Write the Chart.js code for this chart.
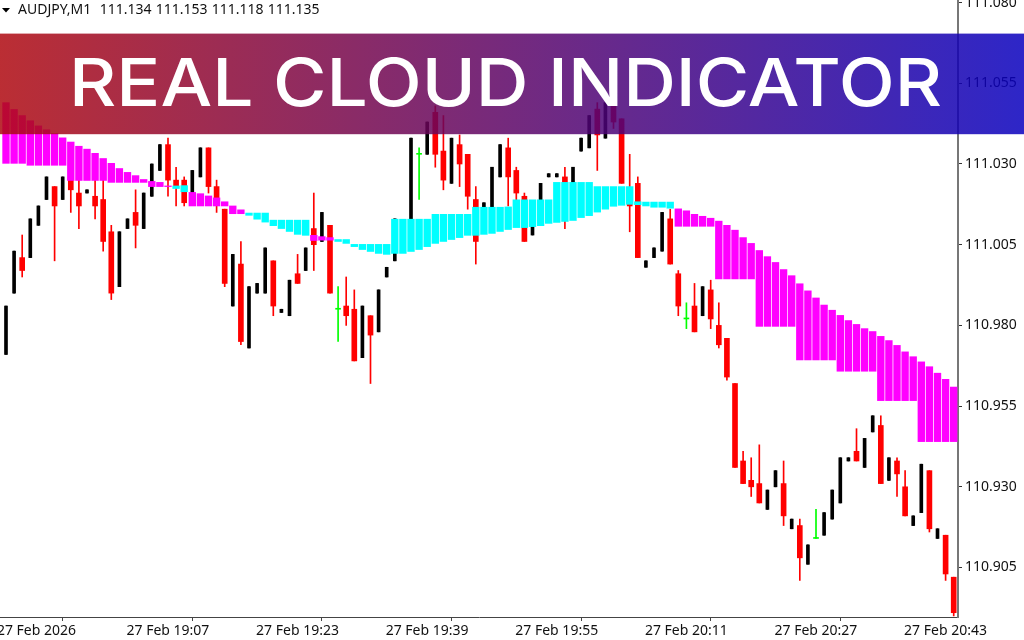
<!DOCTYPE html>
<html>
<head>
<meta charset="utf-8">
<style>html,body{margin:0;padding:0;background:#fff;overflow:hidden}#w{position:relative;width:1024px;height:640px}</style>
<script src="https://cdn.jsdelivr.net/npm/chart.js@4/dist/chart.umd.min.js"></script>
</head>
<body>
<div id="w"><canvas id="c" width="1024" height="640"></canvas></div>
<script>
const titleText = "REAL CLOUD INDICATOR";
const headerText = "AUDJPY,M1  111.134 111.153 111.118 111.135";
const priceTicks = [111.080,111.055,111.030,111.005,110.980,110.955,110.930,110.905];
const timeTickBars = [-1,15,31,47,63,79,95,111];
const timeTickLabels = ["27 Feb 2026","27 Feb 19:07","27 Feb 19:23","27 Feb 19:39","27 Feb 19:55","27 Feb 20:11","27 Feb 20:27","27 Feb 20:43"];

const opens = [110.971,110.990,111.001,111.001,111.011,111.019,111.023,111.019,111.027,111.021,
111.021,111.020,111.019,111.009,110.992,111.010,111.015,111.010,111.020,111.028,
111.036,111.025,111.025,111.018,111.026,111.035,111.023,111.016,110.986,110.999,
110.973,110.990,110.990,111.000,110.984,110.983,110.996,110.997,111.010,111.006,
111.011,110.985,110.986,110.985,110.970,110.983,110.978,110.995,111.000,111.005,
111.013,111.033,111.033,111.046,111.034,111.024,111.036,111.033,111.019,111.013,
111.015,111.026,111.035,111.028,111.020,111.008,111.017,111.026,111.026,111.026,
111.023,111.034,111.035,111.047,111.038,111.048,111.044,111.020,111.024,110.998,
111.001,111.003,111.013,110.996,110.982,110.986,110.983,110.991,110.980,110.976,
110.962,110.938,110.932,110.931,110.923,110.930,110.931,110.917,110.918,110.906,
110.914,110.915,110.920,110.925,110.938,110.941,110.936,110.947,110.949,110.932,
110.938,110.930,110.918,110.922,110.935,110.914,110.915,110.902];
const highs = [110.986,111.003,111.008,111.013,111.017,111.026,111.023,111.026,111.030,111.025,
111.022,111.025,111.025,111.011,111.009,111.013,111.022,111.021,111.030,111.036,
111.038,111.029,111.026,111.028,111.035,111.035,111.025,111.016,111.002,111.006,
110.992,110.993,111.004,111.000,110.985,110.994,111.002,111.004,111.021,111.015,
111.011,110.992,110.995,110.991,110.986,110.983,110.991,110.998,111.013,111.012,
111.038,111.035,111.043,111.048,111.045,111.038,111.039,111.033,111.023,111.018,
111.029,111.036,111.038,111.029,111.021,111.015,111.024,111.027,111.027,111.029,
111.029,111.038,111.045,111.049,111.049,111.050,111.044,111.033,111.026,111.000,
111.004,111.015,111.016,110.997,110.987,110.993,110.992,110.994,110.987,110.976,
110.962,110.941,110.939,110.943,110.929,110.935,110.938,110.920,110.920,110.912,
110.923,110.922,110.929,110.939,110.939,110.948,110.945,110.952,110.952,110.939,
110.939,110.935,110.921,110.937,110.935,110.917,110.915,110.902];
const lows = [110.971,110.990,110.995,111.001,111.011,111.019,111.000,111.019,111.015,111.010,
111.021,111.013,111.003,110.988,110.992,111.010,111.004,111.010,111.020,111.028,
111.020,111.017,111.017,111.018,111.026,111.021,111.015,110.992,110.986,110.974,
110.973,110.990,110.990,110.983,110.984,110.983,110.993,110.997,110.997,111.006,
110.990,110.975,110.980,110.969,110.970,110.962,110.978,110.995,111.000,111.005,
111.013,111.019,111.033,111.029,111.022,111.024,111.023,111.016,110.999,111.013,
111.015,111.026,111.017,111.016,111.006,111.008,111.017,111.026,111.026,111.010,
111.023,111.034,111.035,111.028,111.038,111.041,111.024,111.009,111.001,110.998,
111.001,111.003,110.999,110.983,110.979,110.978,110.983,110.979,110.973,110.963,
110.936,110.931,110.927,110.925,110.923,110.930,110.918,110.917,110.901,110.906,
110.914,110.915,110.920,110.925,110.938,110.938,110.936,110.947,110.931,110.932,
110.927,110.921,110.918,110.922,110.916,110.914,110.901,110.890];
const closes = [110.986,111.003,110.997,111.013,111.017,111.026,111.017,111.026,111.022,111.017,
111.022,111.017,111.006,110.990,111.009,111.013,111.011,111.021,111.030,111.036,
111.025,111.023,111.018,111.028,111.035,111.023,111.018,110.993,111.002,110.975,
110.992,110.993,111.004,110.986,110.985,110.994,110.993,111.004,111.005,111.015,
110.990,110.985,110.983,110.969,110.986,110.977,110.991,110.998,111.013,111.012,
111.038,111.033,111.043,111.033,111.025,111.038,111.030,111.020,111.006,111.018,
111.029,111.036,111.026,111.021,111.006,111.015,111.024,111.027,111.027,111.015,
111.029,111.038,111.045,111.039,111.049,111.043,111.024,111.017,111.001,111.000,
111.004,111.015,110.999,110.986,110.982,110.978,110.992,110.982,110.974,110.964,
110.936,110.931,110.930,110.925,110.929,110.935,110.921,110.920,110.908,110.912,
110.914,110.922,110.929,110.939,110.939,110.938,110.945,110.952,110.931,110.939,
110.934,110.921,110.921,110.937,110.917,110.917,110.903,110.891];

const cloudTop = [111.0490,111.0469,111.0450,111.0434,111.0418,111.0406,111.0394,111.0381,111.0368,111.0355,
111.0346,111.0333,111.0317,111.0302,111.0286,111.0274,111.0264,111.0252,111.0246,111.0243,
111.0232,111.0232,111.0233,111.0212,111.0208,111.0201,111.0195,111.0183,111.0170,111.0158,
111.0148,111.0148,111.0148,111.0126,111.0126,111.0126,111.0126,111.0126,111.0079,111.0075,
111.0072,111.0066,111.0066,111.0051,111.0051,111.0051,111.0051,111.0051,111.0129,111.0129,
111.0129,111.0129,111.0129,111.0144,111.0144,111.0144,111.0144,111.0144,111.0166,111.0166,
111.0166,111.0166,111.0167,111.0189,111.0189,111.0189,111.0189,111.0189,111.0243,111.0243,
111.0243,111.0243,111.0243,111.0230,111.0230,111.0230,111.0230,111.0230,111.0183,111.0182,
111.0182,111.0182,111.0182,111.0161,111.0155,111.0144,111.0138,111.0132,111.0123,111.0110,
111.0095,111.0072,111.0054,111.0032,111.0013,110.9995,110.9973,110.9954,110.9929,110.9907,
110.9885,110.9863,110.9847,110.9831,110.9815,110.9803,110.9790,110.9781,110.9766,110.9753,
110.9738,110.9718,110.9703,110.9687,110.9672,110.9652,110.9633,110.9609];
const cloudBottom = [111.0302,111.0302,111.0302,111.0296,111.0296,111.0296,111.0296,111.0296,111.0249,111.0249,
111.0249,111.0249,111.0249,111.0243,111.0243,111.0243,111.0243,111.0243,111.0230,111.0230,
111.0230,111.0224,111.0214,111.0170,111.0170,111.0170,111.0170,111.0170,111.0146,111.0146,
111.0141,111.0129,111.0120,111.0109,111.0100,111.0091,111.0082,111.0079,111.0063,111.0064,
111.0064,111.0060,111.0054,111.0044,111.0035,111.0029,111.0023,111.0020,111.0023,111.0023,
111.0029,111.0035,111.0044,111.0054,111.0060,111.0066,111.0072,111.0079,111.0079,111.0082,
111.0085,111.0091,111.0097,111.0103,111.0103,111.0106,111.0109,111.0116,111.0119,111.0122,
111.0125,111.0134,111.0140,111.0151,111.0160,111.0169,111.0172,111.0175,111.0174,111.0170,
111.0166,111.0166,111.0163,111.0107,111.0107,111.0107,111.0107,111.0107,110.9944,110.9944,
110.9944,110.9944,110.9944,110.9797,110.9797,110.9797,110.9797,110.9797,110.9693,110.9693,
110.9693,110.9693,110.9693,110.9658,110.9658,110.9658,110.9658,110.9658,110.9567,110.9567,
110.9567,110.9567,110.9567,110.9440,110.9440,110.9440,110.9440,110.9440];
// bars where the cloud is bullish (cyan): [first, last]
const cyanRuns = [[21,22],[30,37],[41,82]];

const RED="#ff0000", BLACK="#000000", GREEN="#00ff00", MAGENTA="#ff00ff", CYAN="#00ffff";
const isCyan = k => cyanRuns.some(r => k>=r[0] && k<=r[1]);
const bars = opens.map((_,k)=>k);
const bodySet = (test) => bars.filter(test).map(k=>({x:k,y:[Math.min(opens[k],closes[k]),Math.max(opens[k],closes[k])]}));

const common = {grouped:false,borderWidth:0,borderSkipped:false};
const datasets = [
 {...common,label:"wick",order:4,barThickness:1,
  data:bars.map(k=>({x:k,y:[lows[k],highs[k]]})),
  backgroundColor:bars.map(k=>closes[k]>opens[k]?BLACK:(closes[k]<opens[k]?RED:GREEN))},
 {...common,label:"down",order:3,barThickness:5,backgroundColor:RED,data:bodySet(k=>closes[k]<opens[k])},
 {...common,label:"up",order:3,barThickness:3,backgroundColor:BLACK,data:bodySet(k=>closes[k]>opens[k])},
 {...common,label:"doji",order:3,barThickness:5,minBarLength:1,backgroundColor:GREEN,data:bodySet(k=>closes[k]===opens[k])},
 {...common,label:"cloud down",order:1,barThickness:6.7,backgroundColor:MAGENTA,
  data:bars.filter(k=>!isCyan(k)).map(k=>({x:k,y:[cloudBottom[k],cloudTop[k]]}))},
 {...common,label:"cloud up",order:1,barThickness:6.7,backgroundColor:CYAN,
  data:bars.filter(isCyan).map(k=>({x:k,y:[cloudBottom[k],cloudTop[k]]}))}
];

const overlay = {
 id:"overlay",
 beforeDraw(chart){const c=chart.ctx;c.save();c.fillStyle="#fff";c.fillRect(0,0,1024,640);c.restore();},
 afterDraw(chart){
  const c=chart.ctx;c.save();
  // header
  c.fillStyle="#000";c.beginPath();c.moveTo(2,8);c.lineTo(10,8);c.lineTo(6,12.5);c.closePath();c.fill();
  c.font="14px 'Noto Sans'";c.fillStyle="#111";c.textBaseline="alphabetic";c.textAlign="left";
  c.wordSpacing="0.6px";
  c.fillText(headerText,18,14);
  c.wordSpacing="0px";
  // banner
  const g=c.createLinearGradient(0,0,1024,0);
  g.addColorStop(0,"rgba(175,9,16,0.85)");g.addColorStop(1,"rgba(9,0,190,0.85)");
  c.fillStyle=g;c.fillRect(0,33.6,1024,100.6);
  c.fillStyle="#fff";c.font="500 66px Inter";
  const w=c.measureText(titleText).width;
  c.translate(69,106);c.scale(873/w,1);
  c.fillText(titleText,0,0);
  c.restore();
 }
};

new Chart(document.getElementById("c"),{
 type:"bar",
 data:{datasets},
 plugins:[overlay],
 options:{
  responsive:false,animation:false,
  layout:{padding:0},
  plugins:{legend:{display:false},tooltip:{enabled:false},title:{display:false}},
  scales:{
   x:{type:"linear",offset:false,min:-0.74,max:117.53,
    afterBuildTicks(s){s.ticks=timeTickBars.map(v=>({value:v}));},
    afterFit(s){s.height=23;s.paddingLeft=0;s.paddingRight=0;},
    border:{display:true,color:"#444",width:1},
    grid:{display:true,drawOnChartArea:false,drawTicks:true,tickLength:4,tickColor:"#444"},
    ticks:{autoSkip:false,maxRotation:0,minRotation:0,align:"start",padding:2,labelOffset:-1,color:"#111",
     font:{family:"'Noto Sans'",size:14},
     callback(v){const i=timeTickBars.indexOf(v);return i<0?"":timeTickLabels[i];}}},
   y:{type:"linear",position:"right",min:110.88967,max:111.0808,
    afterBuildTicks(s){s.ticks=priceTicks.map(v=>({value:v}));},
    afterFit(s){s.width=66;s.paddingTop=0;s.paddingBottom=0;},
    border:{display:true,color:"#777",width:2},
    grid:{display:true,drawOnChartArea:false,drawTicks:true,tickLength:4,tickColor:"#333"},
    ticks:{autoSkip:false,padding:3,color:"#111",
     font:{family:"'Noto Sans'",size:14},
     callback(v){return v.toFixed(3);}}}
  }
 }
});
</script>
</body>
</html>
